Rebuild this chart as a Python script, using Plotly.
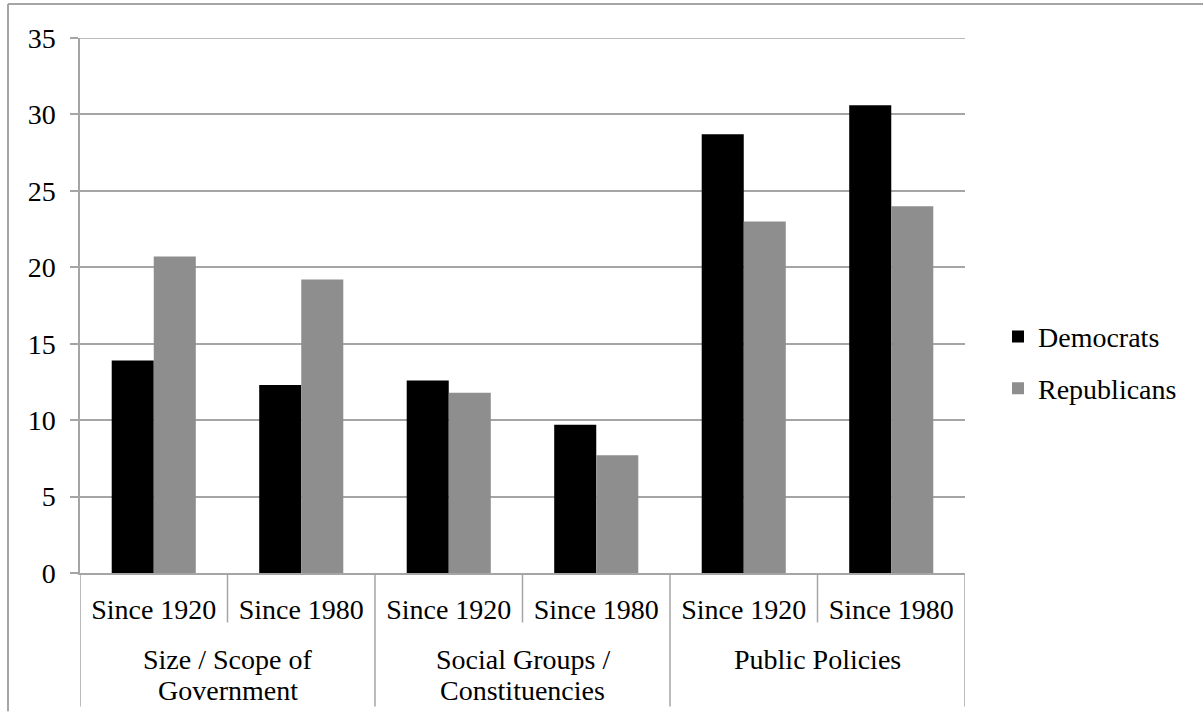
import plotly.graph_objects as go

# Issue groups and the two time spans shown for each
groups = ["Size / Scope of Government", "Social Groups / Constituencies", "Public Policies"]
group_lines = [["Size / Scope of", "Government"], ["Social Groups /", "Constituencies"], ["Public Policies"]]
periods = ["Since 1920", "Since 1980"]

# Values per (group, period), in the order groups x periods
democrats = [13.9, 12.3, 12.6, 9.7, 28.7, 30.6]
republicans = [20.7, 19.2, 11.8, 7.7, 23.0, 24.0]

y_ticks = [0, 5, 10, 15, 20, 25, 30, 35]

FONT = "Liberation Serif"
FSIZE = 28
LINE = "#a5a5a5"

keys = [f"{g} | {p}" for g in groups for p in periods]
sub_labels = [p for g in groups for p in periods]

fig = go.Figure()
fig.add_trace(go.Bar(x=keys, y=democrats, name="Democrats", showlegend=True,
                     marker=dict(color="#000000", line=dict(width=0)), legend="legend"))
fig.add_trace(go.Bar(x=keys, y=republicans, name="Republicans", showlegend=True,
                     marker=dict(color="#8e8e8e", line=dict(width=0)), legend="legend2"))

W, H = 1203, 719
L, R, T, B = 80, 238, 38, 145.5
pw, ph = W - L - R, H - T - B

def py(px):
    # pixel row -> paper y
    return (H - B - px) / ph

def pxx(px):
    # pixel column -> paper x
    return (px - L) / pw

shapes = []
n = len(keys)
# top gridline at the axis maximum
shapes.append(dict(type="line", xref="x", yref="y", x0=-0.5, x1=n - 0.5, y0=y_ticks[-1], y1=y_ticks[-1],
                   line=dict(color=LINE, width=1.5)))
# dividers between the periods (short) and between the groups (long)
for i in range(n + 1):
    xpos = i - 0.5
    is_group_edge = (i % len(periods) == 0)
    shapes.append(dict(type="line", xref="x", yref="paper", x0=xpos, x1=xpos,
                       y0=0, y1=py(707 if is_group_edge else 623),
                       line=dict(color=LINE, width=1.5)))
# outer chart frame (left and top edges)
shapes.append(dict(type="line", xref="paper", yref="paper", x0=pxx(8), x1=pxx(8),
                   y0=py(4), y1=py(712), line=dict(color=LINE, width=2)))
shapes.append(dict(type="line", xref="paper", yref="paper", x0=pxx(8), x1=pxx(1210),
                   y0=py(4), y1=py(4), line=dict(color=LINE, width=2)))

annotations = []
line_rows = [660, 691]
for gi, lines in enumerate(group_lines):
    for li, txt in enumerate(lines):
        annotations.append(dict(x=gi * len(periods) + 0.5, xref="x", y=py(line_rows[li]), yref="paper",
                                text=txt, showarrow=False, xanchor="center", yanchor="middle",
                                font=dict(family=FONT, size=FSIZE, color="#000000")))

legend_style = dict(xanchor="left", yanchor="middle", bgcolor="rgba(0,0,0,0)",
                    font=dict(family=FONT, size=FSIZE, color="#000000"), visible=True)

fig.update_layout(
    width=W, height=H,
    margin=dict(l=L, r=R, t=T, b=B),
    paper_bgcolor="white", plot_bgcolor="white",
    barmode="group", bargap=0.43, bargroupgap=0,
    showlegend=True,
    font=dict(family=FONT, size=FSIZE, color="#000000"),
    xaxis=dict(type="category", tickmode="array", tickvals=keys, ticktext=sub_labels,
               showline=True, linecolor=LINE, linewidth=1.5, ticks="",
               showgrid=False, ticklabelstandoff=11, range=[-0.5, n - 0.5],
               tickfont=dict(family=FONT, size=FSIZE, color="#000000")),
    yaxis=dict(range=[0, 35], tickvals=y_ticks, showgrid=True, gridcolor=LINE, gridwidth=1.5,
               showline=True, linecolor=LINE, linewidth=1.5, ticks="outside", ticklen=8,
               tickcolor=LINE, tickwidth=1.5, ticklabelstandoff=9, zeroline=False,
               tickfont=dict(family=FONT, size=FSIZE, color="#000000")),
    legend=dict(x=pxx(998), y=py(337), **legend_style),
    legend2=dict(x=pxx(998), y=py(389), **legend_style),
    shapes=shapes,
    annotations=annotations,
)

fig.write_html("out.html")
